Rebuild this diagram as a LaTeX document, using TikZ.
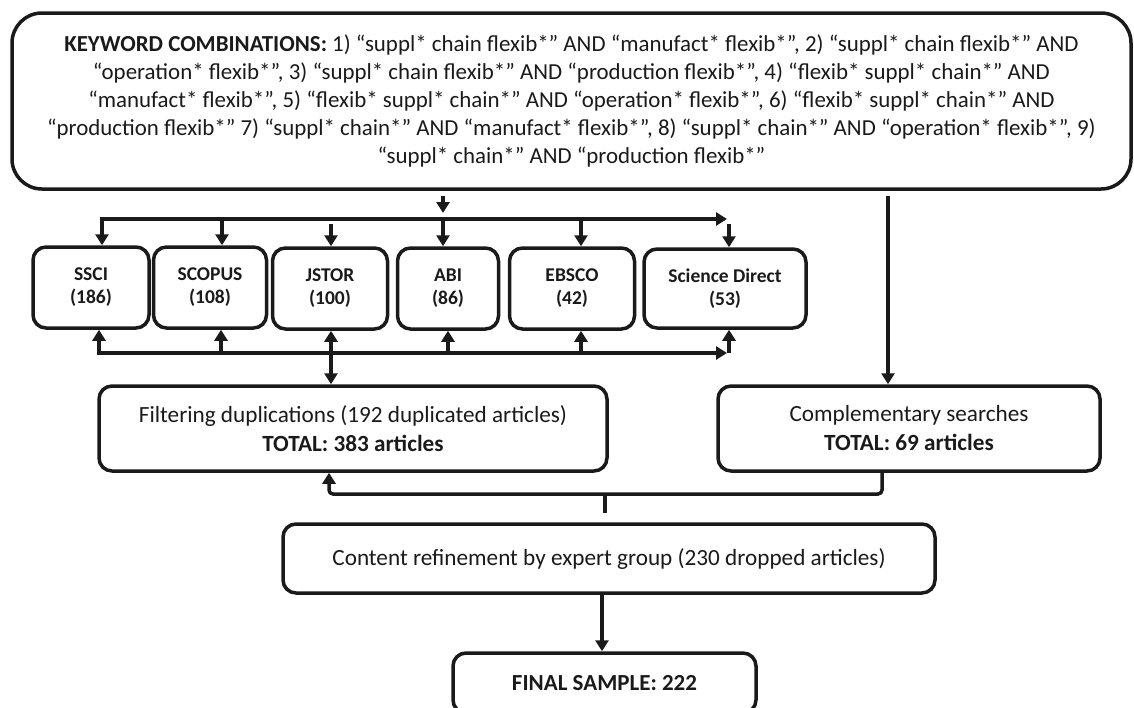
\documentclass[tikz,border=0pt]{standalone}
\usepackage{fontspec}
\setmainfont{Carlito}
\usetikzlibrary{arrows.meta}
\definecolor{ink}{HTML}{1A1A1A}
\tikzset{
  box/.style={draw=ink, line width=3.5pt, rounded corners=13pt, align=center, text=ink, inner sep=0pt, anchor=center},
  conn/.style={draw=ink, line width=3.5pt},
  arr/.style={conn, -{Triangle[length=11pt,width=13pt]}},
  darr/.style={conn, {Triangle[length=11pt,width=13pt]}-{Triangle[length=11pt,width=13pt]}},
  dbtext/.style={font=\fontsize{19.5}{23}\selectfont\bfseries},
  midtext/.style={font=\fontsize{23.2}{29}\selectfont}
}
\begin{document}
\begin{tikzpicture}[x=1pt,y=-1pt]
\useasboundingbox (0,0) rectangle (1134,707);
\node[box, rounded corners=30pt, minimum width=1119pt, minimum height=176pt,
      font=\fontsize{22.9}{28}\selectfont] (top) at (571.5,101)
 {\textbf{KEYWORD COMBINATIONS:} 1) “suppl* chain flexib*” AND “manufact* flexib*”, 2) “suppl* chain flexib*” AND\\
  “operation* flexib*”, 3) “suppl* chain flexib*” AND “production flexib*”, 4) “flexib* suppl* chain*” AND\\
  “manufact* flexib*”, 5) “flexib* suppl* chain*” AND “operation* flexib*”, 6) “flexib* suppl* chain*” AND\\
  “production flexib*” 7) “suppl* chain*” AND “manufact* flexib*”, 8) “suppl* chain*” AND “operation* flexib*”, 9)\\
  “suppl* chain*” AND “production flexib*”};
\node[box, dbtext, minimum width=116pt, minimum height=81pt] (ssci) at (91,287.5) {SSCI\\(186)};
\node[box, dbtext, minimum width=113pt, minimum height=81pt] (scopus) at (210,287.5) {SCOPUS\\(108)};
\node[box, dbtext, minimum width=115pt, minimum height=81pt] (jstor) at (330,288.5) {JSTOR\\(100)};
\node[box, dbtext, minimum width=101pt, minimum height=81pt] (abi) at (448,288.5) {ABI\\(86)};
\node[box, dbtext, minimum width=125pt, minimum height=81pt] (ebsco) at (572,288.5) {EBSCO\\(42)};
\node[box, dbtext, minimum width=162pt, minimum height=79pt] (sd) at (725,288.5) {Science Direct\\(53)};
\node[box, midtext, minimum width=508pt, minimum height=85pt] (filt) at (353,428.5)
 {Filtering duplications (192 duplicated articles)\\\textbf{TOTAL: 383 articles}};
\node[box, midtext, minimum width=382pt, minimum height=85pt] (comp) at (909,428.5)
 {Complementary searches\\\textbf{TOTAL: 69 articles}};
\node[box, midtext, minimum width=652pt, minimum height=69pt] (content) at (609,558.5)
 {Content refinement by expert group (230 dropped articles)};
\node[box, font=\fontsize{23}{26}\selectfont\bfseries, minimum width=303pt, minimum height=60pt] (final) at (604.5,683)
 {FINAL SAMPLE: 222};
% top connector
\coordinate (tdrop) at (443,213);
\coordinate (hl) at (102,219);
\coordinate (hr) at (727,219);
\draw[arr] (443,196) -- (tdrop);
\draw[darr] (hr) -- (hl) -- (hl |- ssci.north);
\draw[arr] (222,219) -- (222,0 |- scopus.north);
\draw[arr] (331,224) -- (331,0 |- jstor.north);
\draw[arr] (443,219) -- (443,0 |- abi.north);
\draw[arr] (581,219) -- (581,0 |- ebsco.north);
\draw[arr] (729,224) -- (729,0 |- sd.north);
% bottom connector
\coordinate (bl) at (99,353);
\coordinate (br) at (727,353);
\draw[darr] (br) -- (bl) -- (bl |- ssci.south);
\draw[arr] (221,353) -- (221,0 |- scopus.south);
\draw[arr] (448,353) -- (448,0 |- abi.south);
\draw[arr] (581,353) -- (581,0 |- ebsco.south);
\draw[arr] (729,353) -- (729,0 |- sd.south);
\draw[darr] (jstor.south -| 331,0) -- (filt.north -| 331,0);
% complementary
\draw[arr] (888,196) -- (comp.north -| 888,0);
% bracket
\coordinate (bk) at (605,494);
\draw[arr, rounded corners=4pt] (comp.south -| 882,0) -- (882,494) -- (329,494) -- (filt.south -| 329,0);
\draw[conn] (bk) -- (605,513);
% final
\draw[arr] (content.south -| 602,0) -- (final.north -| 602,0);
\end{tikzpicture}
\end{document}
